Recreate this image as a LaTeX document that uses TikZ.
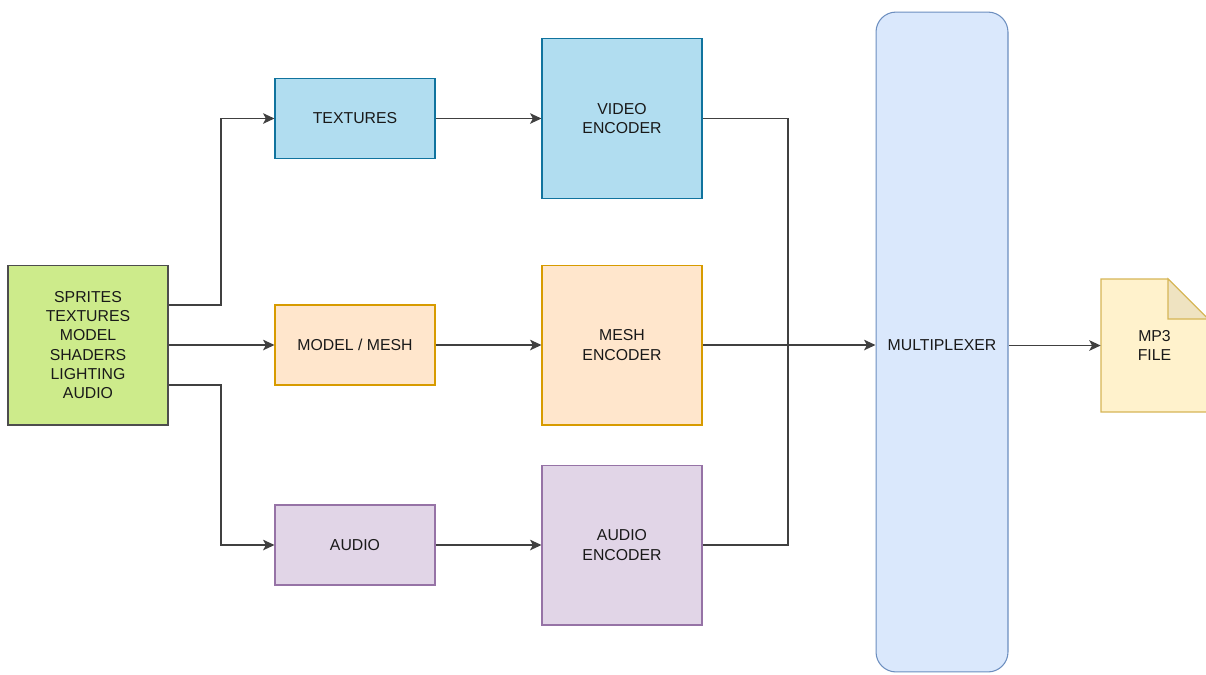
\documentclass[tikz,border=0pt]{standalone}
\usepackage{fontspec}
\setmainfont{Liberation Sans}
\usetikzlibrary{arrows.meta}

\definecolor{srcfill}{HTML}{CDEB8B}
\definecolor{srcline}{HTML}{4D4D4D}
\definecolor{vidfill}{HTML}{B1DDF0}
\definecolor{vidline}{HTML}{10739E}
\definecolor{meshfill}{HTML}{FFE6CC}
\definecolor{meshline}{HTML}{D79B00}
\definecolor{audfill}{HTML}{E1D5E7}
\definecolor{audline}{HTML}{9673A6}
\definecolor{muxfill}{HTML}{DAE8FC}
\definecolor{muxline}{HTML}{6C8EBF}
\definecolor{filefill}{HTML}{FFF2CC}
\definecolor{fileline}{HTML}{D6B656}
\definecolor{foldfill}{HTML}{EFE3C1}

\begin{document}
\begin{tikzpicture}[x=0.02cm, y=-0.02cm, >={Stealth[length=6.5pt, width=6pt, inset=1.6pt]},
    txt/.style={font=\fontsize{9}{10.9}\selectfont, text=black!90, align=center, inner sep=0pt},
    box/.style={txt, draw, line width=0.6pt, minimum width=3.2cm, minimum height=1.6cm},
    enc/.style={box, minimum height=3.2cm},
    link/.style={line width=0.8pt, draw=black!75}]
        \useasboundingbox (0, 0) rectangle (1206, 674);

        \node[enc, fill=srcfill, draw=srcline] at (88, 345)     (src)  {SPRITES\\TEXTURES\\MODEL\\SHADERS\\LIGHTING\\AUDIO};

        \node[box, fill=vidfill, draw=vidline]   at (355, 118.5) (tex)  {TEXTURES};
        \node[box, fill=meshfill, draw=meshline] at (355, 345)   (mesh) {MODEL / MESH};
        \node[box, fill=audfill, draw=audline]   at (355, 545)   (aud)  {AUDIO};

        \node[enc, fill=vidfill, draw=vidline]   at (622, 118.5) (venc) {VIDEO\\ENCODER};
        \node[enc, fill=meshfill, draw=meshline] at (622, 345)   (menc) {MESH\\ENCODER};
        \node[enc, fill=audfill, draw=audline]   at (622, 545)   (aenc) {AUDIO\\ENCODER};

        \node[txt, draw=muxline, fill=muxfill, line width=0.6pt, rounded corners=0.4cm, text height=10pt, text depth=0pt,
              minimum width=2.64cm, minimum height=13.2cm] at (942, 342) (mux) {MULTIPLEXER};

        % file shape with folded corner
        \draw[fileline, fill=filefill, line width=0.6pt] (1101, 279) -- (1168, 279) -- (1208, 319) -- (1208, 412) -- (1101, 412) -- cycle;
        \draw[fileline, fill=foldfill, line width=0.6pt] (1168, 279) -- (1168, 319) -- (1208, 319) -- cycle;
        \node[txt, minimum width=2.14cm, minimum height=2.66cm] at (1154.5, 345.5) (mp3) {MP3\\FILE};

        \coordinate (split) at (221, 345);
        \coordinate (join)  at (788, 345);

        \draw[link, ->] ([yshift=0.8cm]src.east) -| (split |- tex) -- (tex);
        \draw[link, ->] (src) -- (mesh);
        \draw[link, ->] ([yshift=-0.8cm]src.east) -| (split |- aud) -- (aud);

        \draw[link, ->] (tex) -- (venc);
        \draw[link, ->] (mesh) -- (menc);
        \draw[link, ->] (aud) -- (aenc);

        \draw[link] (venc.east) -| (join);
        \draw[link] (aenc.east) -| (join);
        \draw[link, ->] (menc.east) -- (menc.east -| mux.west);

        \draw[link, ->] (mux.east |- mp3) -- (mp3);
    \end{tikzpicture}
\end{document}
